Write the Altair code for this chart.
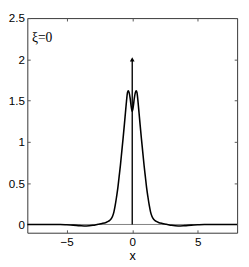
import altair as alt
import pandas as pd

# curve samples (x, y)
curve_x = [-8, -6.5, -5.5, -5.0, -4.5, -4.0, -3.5, -3.0, -2.6, -2.3, -2.0, -1.8, -1.65,
           -1.5, -1.4, -1.3, -1.2, -1.1, -1.0, -0.9, -0.8, -0.7, -0.6, -0.52, -0.44,
           -0.36, -0.3, -0.24, -0.16, -0.08, 0.0,
           0.08, 0.16, 0.24, 0.3, 0.36, 0.44, 0.52, 0.6, 0.7, 0.8, 0.9, 1.0, 1.1, 1.2,
           1.3, 1.4, 1.5, 1.65, 1.8, 2.0, 2.3, 2.6, 3.0, 3.5, 4.0, 4.5, 5.0, 5.5, 6.5, 8]
curve_y = [0, 0, -0.001, -0.004, -0.008, -0.014, -0.018, -0.01, 0.003, 0.012, 0.025, 0.04, 0.06,
           0.10, 0.15, 0.23, 0.33, 0.44, 0.58, 0.72, 0.88, 1.04, 1.21, 1.35, 1.49,
           1.60, 1.62, 1.60, 1.53, 1.43, 1.37,
           1.43, 1.53, 1.60, 1.62, 1.60, 1.49, 1.35, 1.21, 1.04, 0.88, 0.72, 0.58, 0.44, 0.33,
           0.23, 0.15, 0.10, 0.06, 0.04, 0.025, 0.012, 0.003, -0.01, -0.018, -0.014, -0.008,
           -0.004, -0.001, 0, 0]

# delta-function arrow
arrow_x = [0]
arrow_y0 = [0]
arrow_y1 = [2]

# annotation
label_text = ["ξ=0"]
label_x = [-7.65]
label_y = [2.26]

x_ticks = [-5, 0, 5]
y_ticks = [0, 0.5, 1, 1.5, 2, 2.5]
x_domain = [-8, 8]
y_domain = [-0.1, 2.5]

curve_df = pd.DataFrame({"x": curve_x, "y": curve_y})
arrow_df = pd.DataFrame({"x": arrow_x, "y0": arrow_y0, "y1": arrow_y1})
label_df = pd.DataFrame({"t": label_text, "x": label_x, "y": label_y})
zero_df = pd.DataFrame({"y": [0]})

xs = alt.Scale(domain=x_domain, nice=False, zero=False)
ys = alt.Scale(domain=y_domain, nice=False, zero=False)

lab_font = "Liberation Sans"

curve = alt.Chart(curve_df).mark_line(color="black", strokeWidth=1.6, interpolate="monotone").encode(
    x=alt.X("x:Q", scale=xs, axis=alt.Axis(values=x_ticks, tickSize=0, domain=False, grid=False,
                                           labelPadding=4, title="x", titlePadding=3,
                                           labelFontSize=12, titleFontSize=13, labelFont=lab_font,
                                           titleFont=lab_font, titleFontWeight="normal",
                                           labelColor="black", titleColor="black")),
    y=alt.Y("y:Q", scale=ys, axis=alt.Axis(values=y_ticks, tickSize=0, domain=False, grid=False,
                                           labelPadding=3, title=None, format="~g",
                                           labelFontSize=12, labelFont=lab_font,
                                           labelColor="black")),
)

zero_line = alt.Chart(zero_df).mark_rule(color="#808080", strokeWidth=1).encode(
    y=alt.Y("y:Q", scale=ys, axis=alt.Axis(orient="right", values=y_ticks, tickSize=3, offset=-3,
                                           labels=False, domain=False, grid=False, title=None,
                                           tickColor="#555")),
)

arrow_line = alt.Chart(arrow_df).mark_rule(color="black", strokeWidth=1.4).encode(
    x=alt.X("x:Q", scale=xs, axis=alt.Axis(orient="top", values=x_ticks, tickSize=3, offset=-3,
                                           labels=False, domain=False, grid=False, title=None,
                                           tickColor="#555")),
    y=alt.Y("y0:Q", scale=ys, axis=alt.Axis(orient="left", values=y_ticks, tickSize=3, offset=-3,
                                            labels=False, domain=False, grid=False, title=None,
                                            tickColor="#555")),
    y2="y1:Q",
)

arrow_head = alt.Chart(arrow_df).mark_point(shape="triangle-up", filled=True, color="black",
                                            size=24, opacity=1).encode(
    x=alt.X("x:Q", scale=xs, axis=alt.Axis(orient="bottom", values=x_ticks, tickSize=3, offset=-3,
                                           labels=False, domain=False, grid=False, title=None,
                                           tickColor="#555")),
    y=alt.Y("y1:Q", scale=ys, axis=None),
)

label = alt.Chart(label_df).mark_text(align="left", baseline="middle", font="Liberation Serif",
                                      fontSize=14, color="black").encode(
    x=alt.X("x:Q", scale=xs, axis=None),
    y=alt.Y("y:Q", scale=ys, axis=None),
    text="t:N",
)

chart = alt.layer(zero_line, curve, arrow_line, arrow_head, label).resolve_axis(
    x="independent", y="independent"
).properties(
    width=241, height=259, padding=0, background="white",
    autosize=alt.AutoSizeParams(type="fit", contains="padding"),
).configure_view(stroke="#333333", strokeWidth=1)

chart.save("out.html", embed_options={"renderer": "svg", "actions": False})
